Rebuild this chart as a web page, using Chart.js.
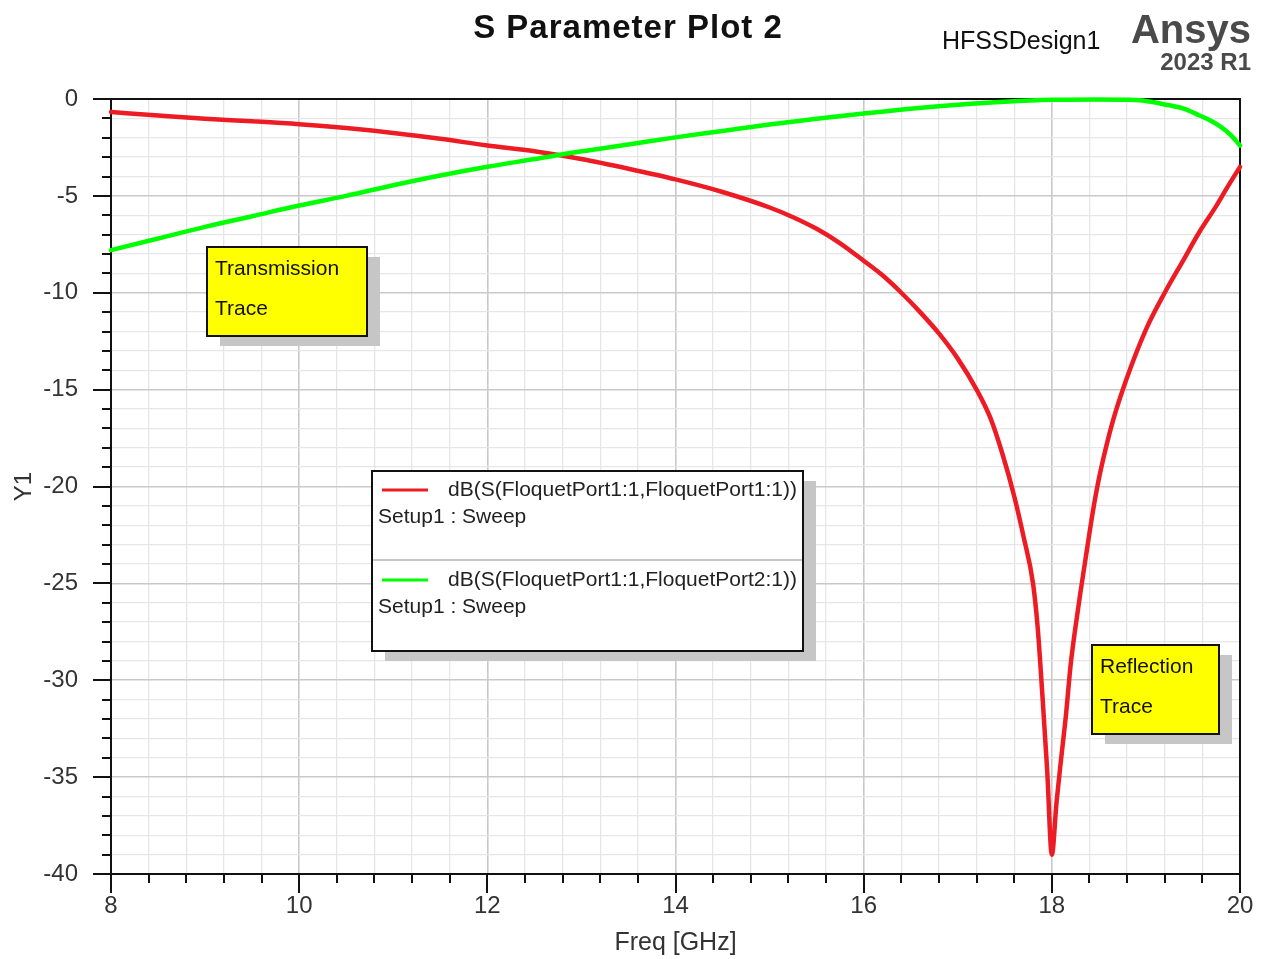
<!DOCTYPE html>
<html>
<head>
<meta charset="utf-8">
<title>S Parameter Plot 2</title>
<script src="https://cdn.jsdelivr.net/npm/chart.js@4.4.0/dist/chart.umd.min.js"></script>
<style>
    html, body { margin: 0; padding: 0; background: #fff; }
    canvas { display: block; }
</style>
</head>
<body>
<canvas id="sparam" width="1266" height="959"></canvas>
<script>
"use strict";

// S11 (reflection)
const s11Freq = [8.0, 8.5, 9.0, 9.5, 10.0, 10.5, 11.0, 11.5, 12.0, 12.5, 13.0, 13.5, 14.0, 14.5, 15.0, 15.25, 15.5, 15.75, 16.0,
    16.2, 16.4, 16.6, 16.8, 17.0, 17.2, 17.35, 17.48, 17.6, 17.7, 17.8, 17.85, 17.9, 17.95, 18.0,
    18.05, 18.1, 18.15, 18.2, 18.25, 18.3, 18.35, 18.4, 18.45, 18.5, 18.55, 18.65, 18.79, 19.0, 19.2, 19.4, 19.57, 19.75, 19.86, 20.0];
const s11Db = [-0.67, -0.85, -1.02, -1.15, -1.30, -1.50, -1.75, -2.05, -2.40, -2.70, -3.10, -3.60, -4.15, -4.8, -5.6, -6.1, -6.7, -7.45, -8.35,
    -9.1, -10.0, -11.0, -12.1, -13.4, -15.0, -16.5, -18.4, -20.5, -22.6, -25.0, -27.3, -30.8, -34.6, -39.0,
    -36.3, -34.0, -31.8, -29.2, -27.3, -25.6, -24.0, -22.4, -20.9, -19.6, -18.5, -16.6, -14.5, -11.9, -10.0, -8.3, -6.85, -5.5, -4.6, -3.5];

// S21 (transmission)
const s21Freq = [8.0, 8.5, 9.0, 9.5, 10.0, 10.5, 11.0, 11.5, 12.0, 12.5, 13.0, 13.5, 14.0, 14.5, 15.0, 15.5, 16.0, 16.5,
    17.0, 17.5, 18.0, 18.5, 18.8, 19.0, 19.2, 19.4, 19.57, 19.7, 19.8, 19.9, 20.0];
const s21Db = [-7.8, -7.2, -6.6, -6.05, -5.5, -5.0, -4.45, -3.95, -3.5, -3.1, -2.7, -2.35, -1.98, -1.65, -1.32, -1.02, -0.75, -0.5,
    -0.3, -0.14, -0.04, -0.02, -0.04, -0.1, -0.28, -0.5, -0.85, -1.15, -1.45, -1.85, -2.4];

const traceLabels = ['dB(S(FloquetPort1:1,FloquetPort1:1))', 'dB(S(FloquetPort1:1,FloquetPort2:1))'];
const traceSetups = ['Setup1 : Sweep', 'Setup1 : Sweep'];
const traceColors = ['#ed1c24', '#00ff00'];
const noteTexts = [['Transmission', 'Trace'], ['Reflection', 'Trace']];

const FONT = '"Liberation Sans", Arial, sans-serif';
const isMajor = (v, step) => Math.abs(v / step - Math.round(v / step)) < 1e-6;

const toPoints = (xs, ys) => xs.map((x, i) => ({x: x, y: ys[i]}));

// boxes drawn on top of the plot (canvas pixels)
const legendBox = {x: 372, y: 471, w: 431, h: 180};
const noteBoxes = [
    {x: 207, y: 247, w: 160, h: 89},
    {x: 1092, y: 645, w: 127, h: 89},
];

const drawShadowBox = (ctx, b, fill) => {
    ctx.fillStyle = '#c6c6c6';
    ctx.fillRect(b.x + 13, b.y + 10, b.w, b.h);
    ctx.fillStyle = fill;
    ctx.fillRect(b.x, b.y, b.w, b.h);
    ctx.lineWidth = 2;
    ctx.strokeStyle = '#111';
    ctx.strokeRect(b.x, b.y, b.w, b.h);
};

const hfssFrame = {
    id: 'hfssFrame',
    beforeDatasetsDraw(chart) {
        const {ctx, chartArea: a, scales: {x, y}} = chart;
        ctx.save();
        ctx.strokeStyle = '#111';
        ctx.lineWidth = 2;
        ctx.strokeRect(a.left, a.top, a.right - a.left, a.bottom - a.top);
        ctx.beginPath();
        x.ticks.forEach(t => {
            const px = Math.round(x.getPixelForValue(t.value));
            ctx.moveTo(px, a.bottom);
            ctx.lineTo(px, a.bottom + (isMajor(t.value, 2) ? 19 : 9));
        });
        y.ticks.forEach(t => {
            const py = Math.round(y.getPixelForValue(t.value));
            ctx.moveTo(a.left, py);
            ctx.lineTo(a.left - (isMajor(t.value, 5) ? 18 : 9), py);
        });
        ctx.stroke();
        ctx.restore();
    },
    afterDatasetsDraw(chart) {
        const {ctx} = chart;
        ctx.save();

        // header
        ctx.textBaseline = 'alphabetic';
        ctx.fillStyle = '#111';
        ctx.textAlign = 'center';
        ctx.font = 'bold 33px ' + FONT;
        ctx.letterSpacing = '1px';
        ctx.fillText('S Parameter Plot 2', 628, 38);
        ctx.letterSpacing = '0px';
        ctx.textAlign = 'left';
        ctx.font = '25px ' + FONT;
        ctx.fillText('HFSSDesign1', 942, 49);
        ctx.textAlign = 'right';
        ctx.fillStyle = '#4a4a4a';
        ctx.font = 'bold 40px ' + FONT;
        ctx.fillText('Ansys', 1251, 43);
        ctx.font = 'bold 24px ' + FONT;
        ctx.fillText('2023 R1', 1251, 70);

        // legend
        const L = legendBox;
        drawShadowBox(ctx, L, '#ffffff');
        ctx.strokeStyle = '#c8c8c8';
        ctx.lineWidth = 2;
        ctx.beginPath();
        ctx.moveTo(L.x + 1, L.y + 89);
        ctx.lineTo(L.x + L.w - 1, L.y + 89);
        ctx.stroke();
        ctx.textAlign = 'left';
        ctx.textBaseline = 'middle';
        ctx.font = '21px ' + FONT;
        traceLabels.forEach((label, i) => {
            const top = L.y + 19 + i * 90;
            ctx.strokeStyle = traceColors[i];
            ctx.lineWidth = 3;
            ctx.beginPath();
            ctx.moveTo(L.x + 10, top);
            ctx.lineTo(L.x + 56, top);
            ctx.stroke();
            ctx.fillStyle = '#222';
            ctx.fillText(label, L.x + 76, top);
            ctx.fillText(traceSetups[i], L.x + 6, top + 27);
        });

        // trace notes
        noteBoxes.forEach((b, i) => {
            drawShadowBox(ctx, b, '#ffff00');
            ctx.fillStyle = '#111';
            ctx.font = '21px ' + FONT;
            ctx.textAlign = 'left';
            ctx.textBaseline = 'middle';
            noteTexts[i].forEach((line, j) => ctx.fillText(line, b.x + 8, b.y + 22 + j * 40));
        });
        ctx.restore();
    }
};

Chart.defaults.font.family = FONT;

const ctx = document.getElementById('sparam');
const chart = new Chart(ctx, {
    type: 'line',
    data: {
        datasets: [
            {
                label: traceLabels[0],
                data: toPoints(s11Freq, s11Db),
                borderColor: traceColors[0],
                borderWidth: 4.5,
                order: 2,
            },
            {
                label: traceLabels[1],
                data: toPoints(s21Freq, s21Db),
                borderColor: traceColors[1],
                borderWidth: 4.5,
                order: 1,
            },
        ]
    },
    options: {
        responsive: false,
        devicePixelRatio: 1,
        animation: false,
        parsing: false,
        clip: false,
        elements: {
            point: {radius: 0},
            line: {cubicInterpolationMode: 'monotone', borderCapStyle: 'round', borderJoinStyle: 'round'},
        },
        layout: {padding: {top: 99, right: 26, left: 0, bottom: 0}},
        plugins: {
            legend: {display: false},
            title: {display: false},
            tooltip: {enabled: false},
        },
        scales: {
            x: {
                type: 'linear',
                min: 8,
                max: 20,
                // fixed frame: keep the plot area where HFSS puts it
                afterFit: scale => {
                    scale.height = 85;
                    scale.paddingLeft = 0;
                    scale.paddingRight = 0;
                },
                border: {display: false},
                grid: {
                    drawTicks: false,
                    color: c => c.tick && isMajor(c.tick.value, 2) ? '#c9c9c9' : '#e6e6e6',
                    lineWidth: c => c.tick && isMajor(c.tick.value, 2) ? 1.6 : 1.3,
                },
                ticks: {
                    stepSize: 0.4,
                    maxTicksLimit: 100,
                    autoSkip: false,
                    maxRotation: 0,
                    padding: 18,
                    color: '#333',
                    font: {size: 24},
                    callback: v => isMajor(v, 2) ? String(Math.round(v)) : '',
                },
                title: {
                    display: true,
                    text: 'Freq [GHz]',
                    color: '#333',
                    font: {size: 25},
                    padding: {top: 0, bottom: 1},
                },
            },
            y: {
                type: 'linear',
                min: -40,
                max: 0,
                afterFit: scale => {
                    scale.width = 111;
                    scale.paddingTop = 0;
                    scale.paddingBottom = 0;
                },
                border: {display: false},
                grid: {
                    drawTicks: false,
                    color: c => c.tick && isMajor(c.tick.value, 5) ? '#c9c9c9' : '#e6e6e6',
                    lineWidth: c => c.tick && isMajor(c.tick.value, 5) ? 1.6 : 1.3,
                },
                ticks: {
                    stepSize: 1,
                    maxTicksLimit: 100,
                    autoSkip: false,
                    padding: 33,
                    color: '#333',
                    font: {size: 24},
                    callback: v => isMajor(v, 5) ? String(Math.round(v)) : '',
                },
                title: {
                    display: true,
                    text: 'Y1',
                    color: '#333',
                    font: {size: 24},
                    padding: {top: 10, bottom: 0},
                },
            },
        },
    },
    plugins: [hfssFrame],
});
</script>
</body>
</html>
